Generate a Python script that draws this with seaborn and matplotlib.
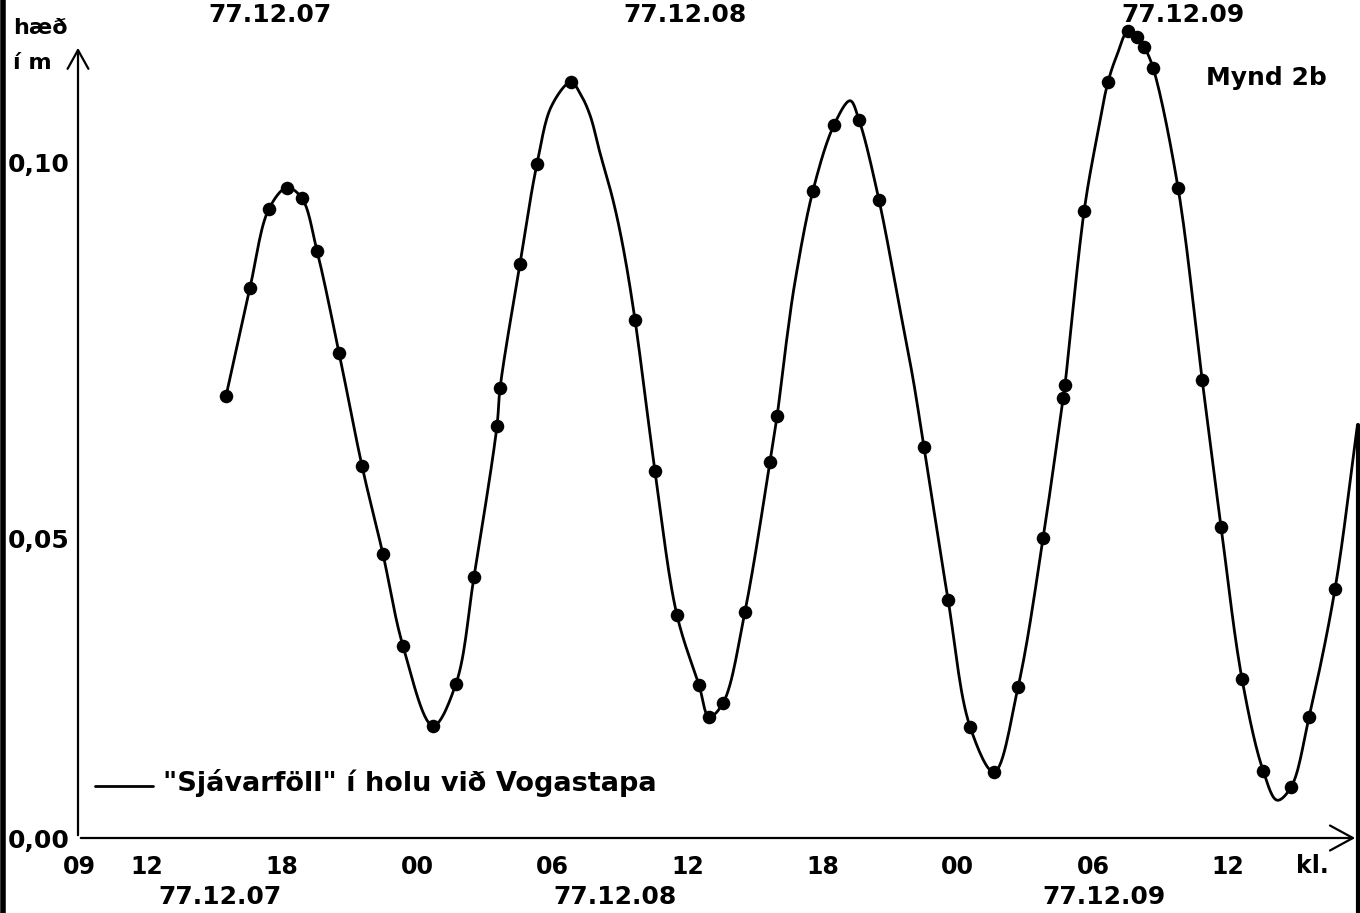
import matplotlib
matplotlib.use("Agg")
import matplotlib.pyplot as plt
from matplotlib.lines import Line2D
import numpy as np
import pandas as pd
import seaborn as sns

# measured points: hours counted from 77.12.07 00:00, height in m
point_hours = [15.51, 16.57, 17.42, 18.22, 18.88, 19.55, 20.53, 21.55, 22.48, 23.37,
               24.70, 25.72, 26.52, 27.54, 27.68, 28.56, 29.32, 30.83, 33.67, 34.56,
               35.53, 36.51, 36.96, 37.58, 38.55, 39.66, 39.98, 41.57, 42.51, 43.62,
               44.50, 46.50, 47.57, 48.55, 49.61, 50.68, 51.79, 52.68, 52.76, 53.61,
               54.67, 55.56, 55.96, 56.27, 56.67, 57.78, 58.85, 59.69, 60.62, 61.56,
               62.80, 63.60, 64.75]
point_heights = [0.0689, 0.0833, 0.0939, 0.0967, 0.0953, 0.0883, 0.0747, 0.0596, 0.0473, 0.0320,
                 0.0187, 0.0257, 0.0435, 0.0649, 0.0700, 0.0865, 0.0999, 0.1108, 0.0791, 0.0589,
                 0.0372, 0.0255, 0.0202, 0.0225, 0.0377, 0.0601, 0.0663, 0.0963, 0.1051, 0.1057,
                 0.0951, 0.0621, 0.0397, 0.0185, 0.0110, 0.0252, 0.0500, 0.0687, 0.0704, 0.0936,
                 0.1108, 0.1176, 0.1168, 0.1155, 0.1127, 0.0967, 0.0711, 0.0515, 0.0265, 0.0112,
                 0.0085, 0.0202, 0.0415]

# extra spots (turns, end of line)
curve_extra_hours = [29.98, 31.23, 31.67, 32.12, 32.69, 33.14, 40.42, 40.77, 43.22, 45.44,
                     46.01, 54.18, 55.07, 62.18, 65.73]
curve_extra_heights = [0.1077, 0.1093, 0.1064, 0.1013, 0.0951, 0.0888, 0.0768, 0.0841, 0.1083,
                       0.0804, 0.0713, 0.1035, 0.1144, 0.0063, 0.0647]

xtick_hours = [9, 12, 18, 24, 30, 36, 42, 48, 54, 60]
xtick_labels = ["09", "12", "18", "00", "06", "12", "18", "00", "06", "12"]
ytick_values = [0.0, 0.05, 0.10]
ytick_labels = ["0,00", "0,05", "0,10"]
dates = ["77.12.07", "77.12.08", "77.12.09"]


# the drawn y axis is uneven: 0,00-0,05 is shorter than 0,05-0,10
def y_forward(v):
    v = np.asarray(v, dtype=float)
    return np.where(v <= 0.05, v * 6000, 300 + (v - 0.05) * 7500)


def y_inverse(p):
    p = np.asarray(p, dtype=float)
    return np.where(p <= 300, p / 6000, 0.05 + (p - 300) / 7500)


def smooth_path(hours, heights, n=16):
    '''centripetal catmull-rom through the points, done in screen-like units'''
    P = np.column_stack([np.asarray(hours) * 22.52, y_forward(heights)])
    P = np.vstack([2 * P[0] - P[1], P, 2 * P[-1] - P[-2]])
    out = []
    for i in range(1, len(P) - 2):
        p0, p1, p2, p3 = P[i - 1], P[i], P[i + 1], P[i + 2]
        t0 = 0.0
        t1 = t0 + np.linalg.norm(p1 - p0) ** 0.5
        t2 = t1 + np.linalg.norm(p2 - p1) ** 0.5
        t3 = t2 + np.linalg.norm(p3 - p2) ** 0.5
        t = np.linspace(t1, t2, n)[:, None]
        a1 = (t1 - t) / (t1 - t0) * p0 + (t - t0) / (t1 - t0) * p1
        a2 = (t2 - t) / (t2 - t1) * p1 + (t - t1) / (t2 - t1) * p2
        a3 = (t3 - t) / (t3 - t2) * p2 + (t - t2) / (t3 - t2) * p3
        b1 = (t2 - t) / (t2 - t0) * a1 + (t - t0) / (t2 - t0) * a2
        b2 = (t3 - t) / (t3 - t1) * a2 + (t - t1) / (t3 - t1) * a3
        c = (t2 - t) / (t2 - t1) * b1 + (t - t1) / (t2 - t1) * b2
        out.append(c if i == 1 else c[1:])
    out = np.vstack(out)
    return out[:, 0] / 22.52, y_inverse(out[:, 1])


sns.set_style("white")
plt.rcParams['font.family'] = ['DejaVu Sans']
plt.rcParams['font.weight'] = 'bold'

W, H = 1360, 913
fig = plt.figure(figsize=(W / 100, H / 100), dpi=100)
ax = fig.add_axes([78 / W, 75 / H, 1280 / W, 838 / H])
ax.set_yscale('function', functions=(y_forward, y_inverse))

line_df = pd.DataFrame({
    'hour': point_hours + curve_extra_hours,
    'height': point_heights + curve_extra_heights,
}).sort_values('hour')
sx, sy = smooth_path(line_df['hour'].values, line_df['height'].values)
curve_df = pd.DataFrame({'hour': sx, 'height': sy})

sns.lineplot(data=curve_df, x='hour', y='height', estimator=None, sort=False,
             color='black', linewidth=2.0, ax=ax)
sns.scatterplot(x=point_hours, y=point_heights, s=95, color='black',
                edgecolor='black', linewidth=0, zorder=3, ax=ax)

ax.set_xlim(8.94, 65.77)
ax.set_ylim(0, float(y_inverse(838)))
for s in ax.spines.values():
    s.set_visible(False)

# axis lines with open arrow heads
ax.annotate('', xy=(1.0, 0), xytext=(0, 0), xycoords='axes fraction',
            arrowprops=dict(arrowstyle='->,head_length=0.55,head_width=0.3',
                            mutation_scale=30, lw=1.6, color='black'),
            annotation_clip=False)
ax.annotate('', xy=(0, 1 - 45 / 838), xytext=(0, 0), xycoords='axes fraction',
            arrowprops=dict(arrowstyle='->,head_length=0.45,head_width=0.25',
                            mutation_scale=30, lw=1.6, color='black'),
            annotation_clip=False)

ax.set_xticks(xtick_hours)
ax.set_xticklabels(xtick_labels, fontsize=17)
ax.tick_params(axis='x', direction='inout', length=16, width=1.6, pad=4, colors='black')
ax.xaxis.get_major_ticks()[0].tick1line.set_visible(False)

ax.set_yticks(ytick_values)
ax.set_yticklabels(ytick_labels, fontsize=18)
ax.tick_params(axis='y', direction='out', length=8, width=1.6, pad=-2, colors='black')
ax.yaxis.get_major_ticks()[0].tick1line.set_visible(False)
ax.minorticks_off()
ax.set_xlabel('')
ax.set_ylabel('')

fs = dict(fontweight='bold', color='black')
fig.text(1312 / W, 1 - 866 / H, 'kl.', fontsize=17, ha='center', va='center', **fs)
fig.text(13 / W, 1 - 28 / H, 'hæð', fontsize=16, ha='left', va='center', **fs)
fig.text(13 / W, 1 - 63 / H, 'í m', fontsize=16, ha='left', va='center', **fs)
fig.text(1266 / W, 1 - 78 / H, 'Mynd 2b', fontsize=18, ha='center', va='center', **fs)

for d, px in zip(dates, [270, 685, 1183]):
    fig.text(px / W, 1 - 15 / H, d, fontsize=18, ha='center', va='center', **fs)
for d, px in zip(dates, [220, 615, 1104]):
    fig.text(px / W, 1 - 897 / H, d, fontsize=18, ha='center', va='center', **fs)

# legend
fig.add_artist(Line2D([95 / W, 153 / W], [1 - 786 / H, 1 - 786 / H], color='black', lw=2.0))
fig.text(163 / W, 1 - 783 / H, '"Sjávarföll" í holu við Vogastapa', fontsize=19.5,
         ha='left', va='center', **fs)

# scan edges
fig.add_artist(Line2D([3 / W, 3 / W], [0, 1], color='black', lw=4))
fig.add_artist(Line2D([1358 / W, 1358 / W], [0, 1 - 425 / H], color='black', lw=3))

fig.savefig('out.png', dpi=100, facecolor='white')
